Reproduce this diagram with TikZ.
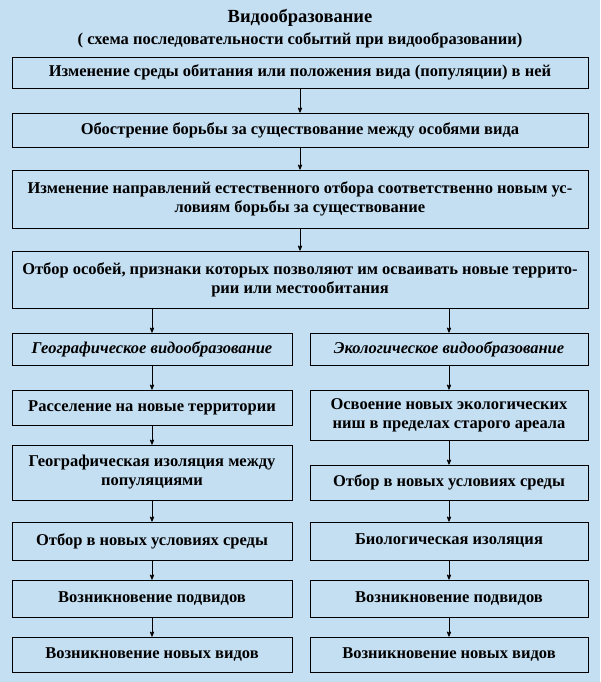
\documentclass[tikz,border=0pt]{standalone}
\usepackage{fontspec}
\setmainfont{Liberation Serif}
\usetikzlibrary{arrows}
\definecolor{bg}{RGB}{196,222,242}
\tikzset{
  box/.style={draw=black, thick, fill=bg, align=center, inner sep=1pt, font=\fontsize{16.5}{19}\selectfont\bfseries},
  arr/.style={-stealth', thick}
}
\begin{document}
\begin{tikzpicture}[x=1pt,y=-1pt]
	\fill[bg] (0,0) rectangle (600,682);
	\useasboundingbox (0,0) rectangle (600,682);
	\node (title) at (300,18) {\fontsize{18.5}{20}\selectfont\bfseries Видообразование};
	\node (sub) at (300,40) {\fontsize{16.5}{18}\selectfont\bfseries ( схема последовательности событий при видообразовании)};
	% main column
	\node[box, minimum width=576pt, minimum height=31pt] (b1) at (300,72.5) {Изменение среды обитания или положения вида (популяции) в ней};
	\node[box, minimum width=576pt, minimum height=34pt] (b2) at (300,130) {Обострение борьбы за существование между особями вида};
	\node[box, minimum width=576pt, minimum height=58pt] (b3) at (300,199) {Изменение направлений естественного отбора соответственно новым ус-\\ловиям борьбы за существование};
	\node[box, minimum width=576pt, minimum height=57pt] (b4) at (300,279.5) {Отбор особей, признаки которых позволяют им осваивать новые террито-\\рии или местообитания};
	% left column
	\node[box, minimum width=280pt, minimum height=32pt] (g0) at (152,349) {\itshape Географическое видообразование};
	\node[box, minimum width=280pt, minimum height=35pt] (g1) at (152,407.5) {Расселение на новые территории};
	\node[box, minimum width=280pt, minimum height=55pt] (g2) at (152,472.5) {Географическая изоляция между\\популяциями};
	\node[box, minimum width=280pt, minimum height=38pt] (g3) at (152,541) {Отбор в новых условиях среды};
	\node[box, minimum width=280pt, minimum height=37pt] (g4) at (152,598.5) {Возникновение подвидов};
	\node[box, minimum width=280pt, minimum height=35pt] (g5) at (152,654.5) {Возникновение новых видов};
	% right column
	\node[box, minimum width=278pt, minimum height=32pt] (e0) at (449,349) {\itshape Экологическое видообразование};
	\node[box, minimum width=278pt, minimum height=50pt] (e1) at (449,415) {Освоение новых экологических\\ниш в пределах старого ареала};
	\node[box, minimum width=278pt, minimum height=35pt] (e2) at (449,482.5) {Отбор в новых условиях среды};
	\node[box, minimum width=278pt, minimum height=38pt] (e3) at (449,541) {Биологическая изоляция};
	\node[box, minimum width=278pt, minimum height=37pt] (e4) at (449,598.5) {Возникновение подвидов};
	\node[box, minimum width=278pt, minimum height=35pt] (e5) at (449,654.5) {Возникновение новых видов};
	% arrows
	\draw[arr] (b1) -- (b2);
	\draw[arr] (b2) -- (b3);
	\draw[arr] (b3) -- (b4);
	\draw[arr] (b4.south -| g0) -- (g0);
	\draw[arr] (b4.south -| e0) -- (e0);
	\foreach \a/\b in {g0/g1,g1/g2,g2/g3,g3/g4,g4/g5,e0/e1,e1/e2,e2/e3,e3/e4,e4/e5}
		\draw[arr] (\a) -- (\b);
\end{tikzpicture}
\end{document}
